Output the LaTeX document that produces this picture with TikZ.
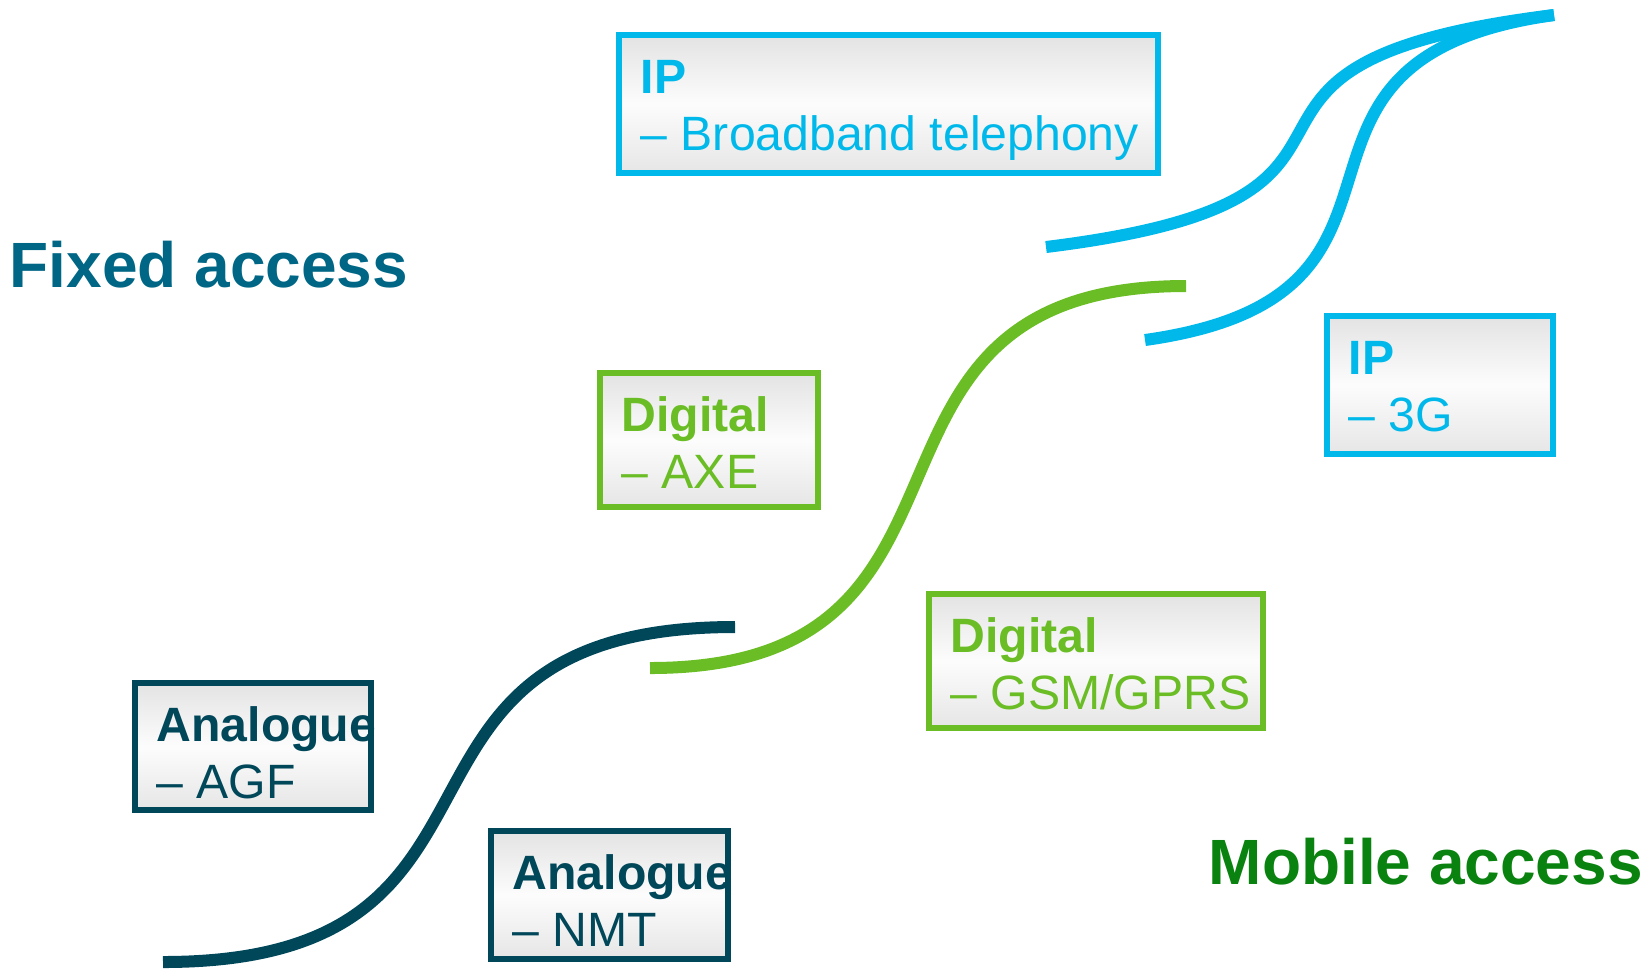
\documentclass[tikz,border=0pt]{standalone}
\usepackage{fontspec}
\setmainfont{Liberation Sans}
\usetikzlibrary{calc}

\definecolor{navy}{RGB}{1,71,90}
\definecolor{fixedteal}{RGB}{0,102,133}
\definecolor{leaf}{RGB}{106,189,36}
\definecolor{sky}{RGB}{0,185,234}
\definecolor{mobilegreen}{RGB}{10,130,15}

\tikzset{
  techbox/.style={draw=#1, line width=0.06cm, outer sep=0pt, inner sep=0pt, anchor=north west,
    top color=black!11, bottom color=black!10, middle color=black!1},
  boxtitle/.style={text=#1, anchor=base west, inner sep=0pt, font=\fontsize{13.7}{16}\selectfont\bfseries},
  boxsub/.style={text=#1, anchor=base west, inner sep=0pt, font=\fontsize{13.7}{16}\selectfont},
  access/.style={text=#1, anchor=base west, inner sep=0pt, font=\fontsize{18.2}{21}\selectfont\bfseries},
  stage/.style={draw=#1, line width=0.12cm}
}

\begin{document}
\begin{tikzpicture}[x=0.01cm, y=-0.01cm]
\useasboundingbox (0,0) rectangle (1652,969);

% access labels
\node[access=fixedteal] (fixed) at (9,287) {Fixed access};
\node[access=mobilegreen] (mobile) at (1208,884) {Mobile access};

% steps
\draw[stage=navy] (163,962) .. controls (553,962) and (345,627) .. (735,627);
\draw[stage=leaf] (650,668) .. controls (1021,668) and (815,286) .. (1186,286);
\draw[stage=sky] (1046,247) .. controls (1453,197) and (1147,65) .. (1554,15);
\draw[stage=sky] (1145,340) .. controls (1467,295) and (1232,60) .. (1554,15);

% analogue
\node[techbox=navy, minimum width=2.36cm, minimum height=1.27cm] (agf) at (135,683) {};
\node[boxtitle=navy] (agf-t) at ($(agf.north west)+(21,58)$) {Analogue};
\node[boxsub=navy] (agf-s) at ($(agf.north west)+(21,115)$) {-- AGF};

\node[techbox=navy, minimum width=2.37cm, minimum height=1.28cm] (nmt) at (491,831) {};
\node[boxtitle=navy] (nmt-t) at ($(nmt.north west)+(21,58)$) {Analogue};
\node[boxsub=navy] (nmt-s) at ($(nmt.north west)+(21,115)$) {-- NMT};

% digital
\node[techbox=leaf, minimum width=2.18cm, minimum height=1.34cm] (axe) at (600,373) {};
\node[boxtitle=leaf] (axe-t) at ($(axe.north west)+(21,58)$) {Digital};
\node[boxsub=leaf] (axe-s) at ($(axe.north west)+(21,115)$) {-- AXE};

\node[techbox=leaf, minimum width=3.34cm, minimum height=1.34cm] (gsm) at (929,594) {};
\node[boxtitle=leaf] (gsm-t) at ($(gsm.north west)+(21,58)$) {Digital};
\node[boxsub=leaf] (gsm-s) at ($(gsm.north west)+(21,115)$) {-- GSM/GPRS};

% ip
\node[techbox=sky, minimum width=5.39cm, minimum height=1.38cm] (bb) at (619,35) {};
\node[boxtitle=sky] (bb-t) at ($(bb.north west)+(21,58)$) {IP};
\node[boxsub=sky] (bb-s) at ($(bb.north west)+(21,115)$) {-- Broadband telephony};

\node[techbox=sky, minimum width=2.26cm, minimum height=1.38cm] (threeg) at (1327,316) {};
\node[boxtitle=sky] (threeg-t) at ($(threeg.north west)+(21,58)$) {IP};
\node[boxsub=sky] (threeg-s) at ($(threeg.north west)+(21,115)$) {-- 3G};
\end{tikzpicture}
\end{document}
